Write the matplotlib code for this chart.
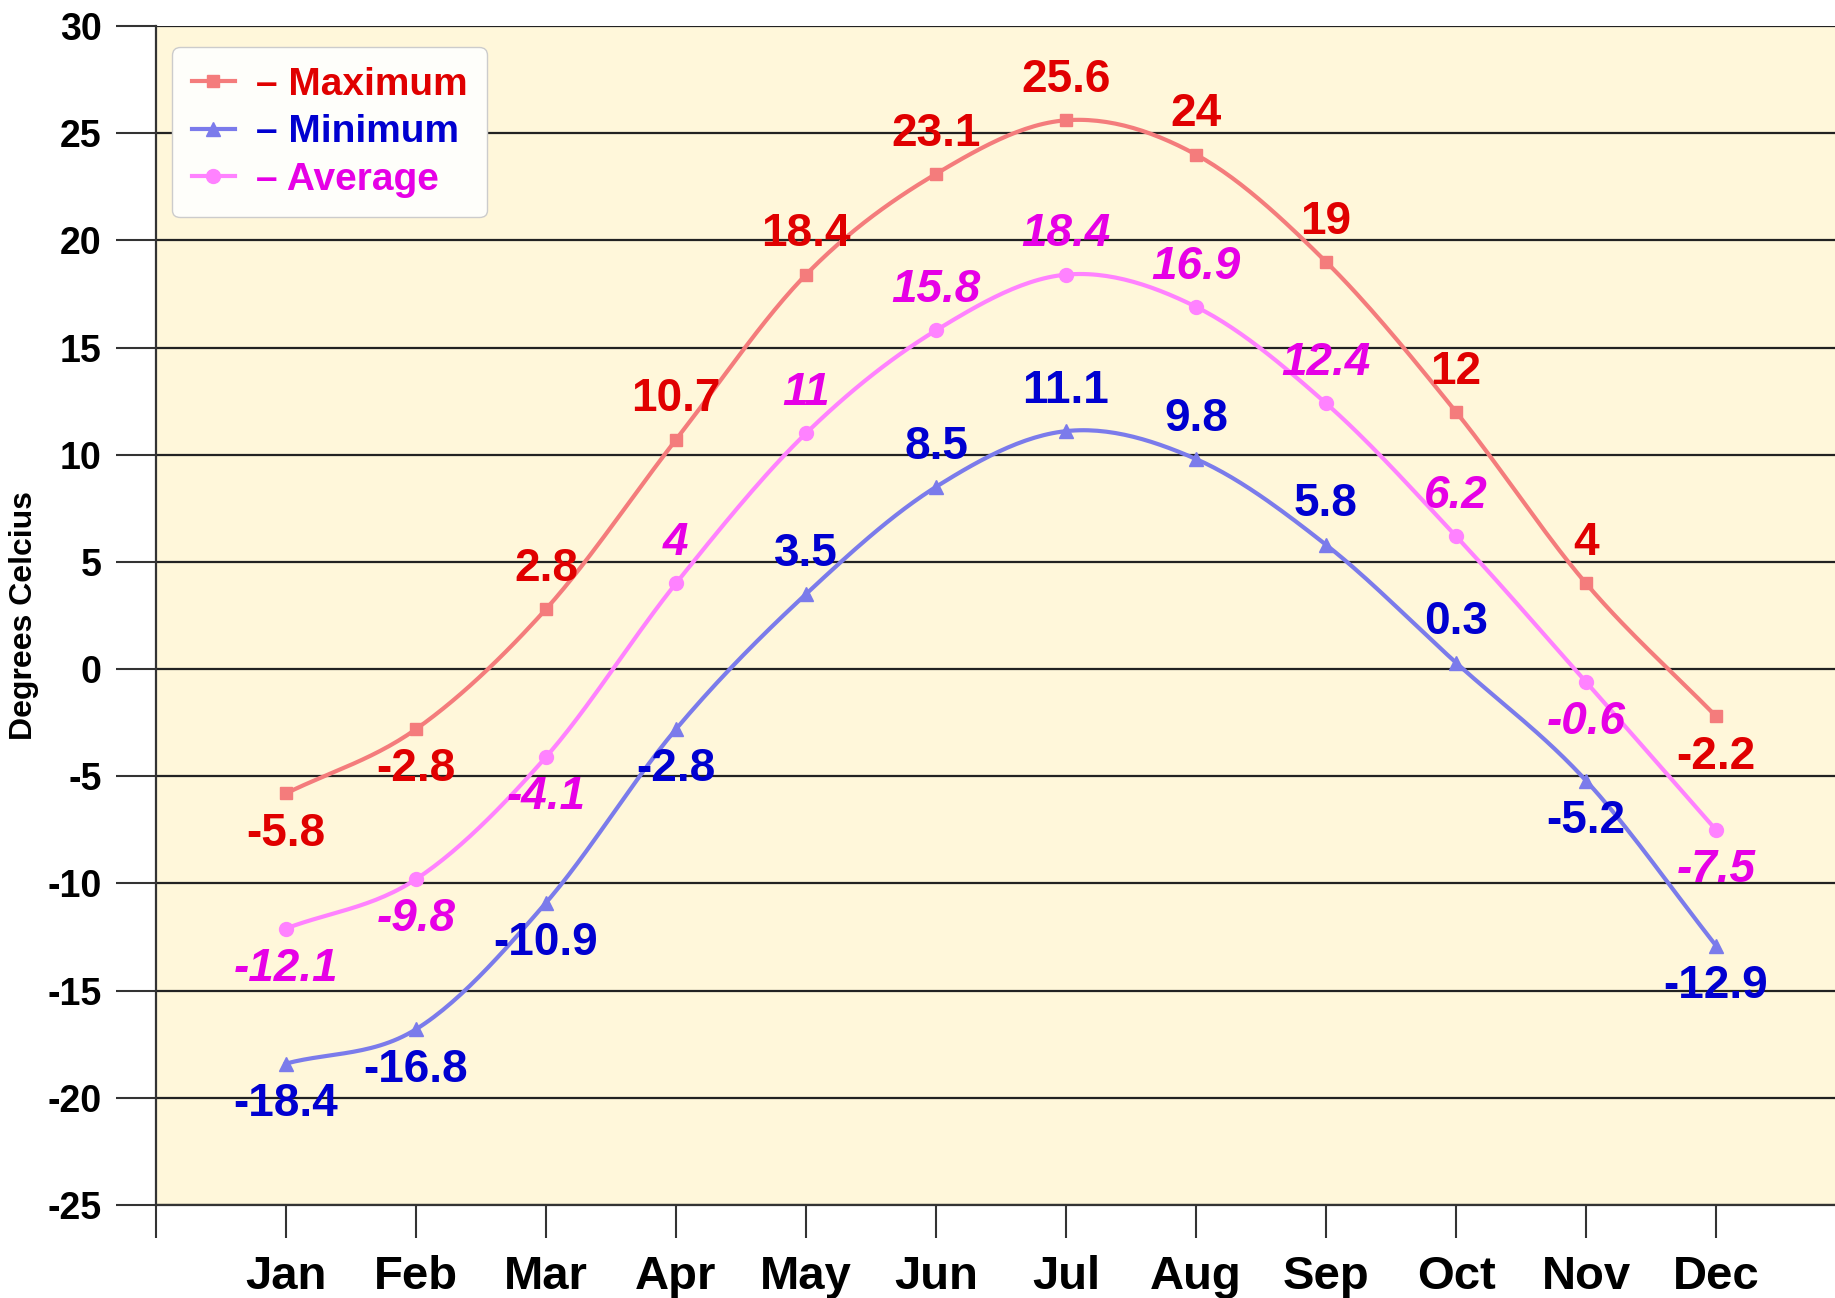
import numpy as np
import matplotlib.pyplot as plt

# monthly temperature data (degrees celcius)
months = ['Jan', 'Feb', 'Mar', 'Apr', 'May', 'Jun', 'Jul', 'Aug', 'Sep', 'Oct', 'Nov', 'Dec']
t_max = [-5.8, -2.8, 2.8, 10.7, 18.4, 23.1, 25.6, 24, 19, 12, 4, -2.2]
t_min = [-18.4, -16.8, -10.9, -2.8, 3.5, 8.5, 11.1, 9.8, 5.8, 0.3, -5.2, -12.9]
t_avg = [-12.1, -9.8, -4.1, 4, 11, 15.8, 18.4, 16.9, 12.4, 6.2, -0.6, -7.5]

# which labels sit above (1) or below (-1) the point
max_side = [-1, -1, 1, 1, 1, 1, 1, 1, 1, 1, 1, -1]
min_side = [-1, -1, -1, -1, 1, 1, 1, 1, 1, 1, -1, -1]
avg_side = [-1, -1, -1, 1, 1, 1, 1, 1, 1, 1, -1, -1]

plt.rcParams['font.family'] = ['Liberation Sans', 'DejaVu Sans']
plt.rcParams['font.weight'] = 'bold'
plt.rcParams['axes.unicode_minus'] = False


# smooth line through the points (catmull-rom, like a spreadsheet "smoothed line")
def smooth(x, y, n=30):
    x = np.asarray(x, float)
    y = np.asarray(y, float)
    px = np.concatenate([[2 * x[0] - x[1]], x, [2 * x[-1] - x[-2]]])
    py = np.concatenate([[2 * y[0] - y[1]], y, [2 * y[-1] - y[-2]]])
    xs, ys = [], []
    t = np.linspace(0, 1, n)
    for i in range(1, len(px) - 2):
        for p, out in ((px, xs), (py, ys)):
            p0, p1, p2, p3 = p[i - 1], p[i], p[i + 1], p[i + 2]
            out.extend(0.5 * ((2 * p1) + (-p0 + p2) * t
                              + (2 * p0 - 5 * p1 + 4 * p2 - p3) * t ** 2
                              + (-p0 + 3 * p1 - 3 * p2 + p3) * t ** 3))
    return xs, ys


fig = plt.figure(figsize=(18.35, 12.98), dpi=100)
ax = fig.add_axes([0.085, 0.0716, 0.921, 0.9084])
ax.set_facecolor('#FFF7DA')

x = np.arange(1, len(months) + 1)

series = [
    (t_max, max_side, '#F47C7C', 's', 9, '#E00000', 'normal', 'Maximum'),
    (t_min, min_side, '#7B7BEB', '^', 10, '#0000D0', 'normal', 'Minimum'),
    (t_avg, avg_side, '#FF82FF', 'o', 10, '#E600E6', 'italic', 'Average'),
]

handles = []
for vals, side, lc, mk, ms, tc, style, name in series:
    sx, sy = smooth(x, vals)
    ax.plot(sx, sy, color=lc, lw=3, zorder=3)
    ax.plot(x, vals, linestyle='none', marker=mk, ms=ms, color=lc, zorder=4)
    h, = ax.plot([], [], color=lc, lw=3, marker=mk, ms=ms)
    handles.append(h)
    for xi, v, s in zip(x, vals, side):
        ax.annotate(f'{v:g}', (xi, v), xytext=(0, 29 * s), textcoords='offset points',
                    ha='center', va='center', fontsize=33, color=tc,
                    fontweight='bold', fontstyle=style, zorder=5)

ax.set_xlim(0, 13)
ax.set_ylim(-25, 30)
ax.set_yticks(np.arange(-25, 31, 5))
ax.set_xticks(np.arange(0, 13))
ax.set_xticklabels([''] + months)
ax.tick_params(axis='x', length=24, width=1.5, pad=12, labelsize=34, color='#333333')
ax.tick_params(axis='y', length=29, width=1.5, pad=10, labelsize=27, color='#333333')
ax.yaxis.grid(True, color='#222222', lw=1.6, zorder=1)
ax.set_axisbelow(True)
for sp in ['top', 'right']:
    ax.spines[sp].set_visible(False)
ax.spines['left'].set_color('#333333')
ax.spines['left'].set_linewidth(1.6)
ax.spines['bottom'].set_color('#333333')
ax.spines['bottom'].set_linewidth(1.6)
ax.set_ylabel('Degrees Celcius', fontsize=23, fontweight='bold', labelpad=6)

leg = ax.legend(handles, ['– Maximum', '– Minimum', '– Average'], loc='upper left',
                bbox_to_anchor=(0.0097, 0.982), borderaxespad=0, fontsize=28,
                frameon=True, fancybox=True, handlelength=1.1, handletextpad=0.55,
                labelspacing=0.3, borderpad=0.5, framealpha=1, edgecolor='#CCCCCC',
                facecolor='#FEFEFA')
for txt, (_, _, _, _, _, tc, _, _) in zip(leg.get_texts(), series):
    txt.set_color(tc)

fig.savefig('out.png', dpi=100)
